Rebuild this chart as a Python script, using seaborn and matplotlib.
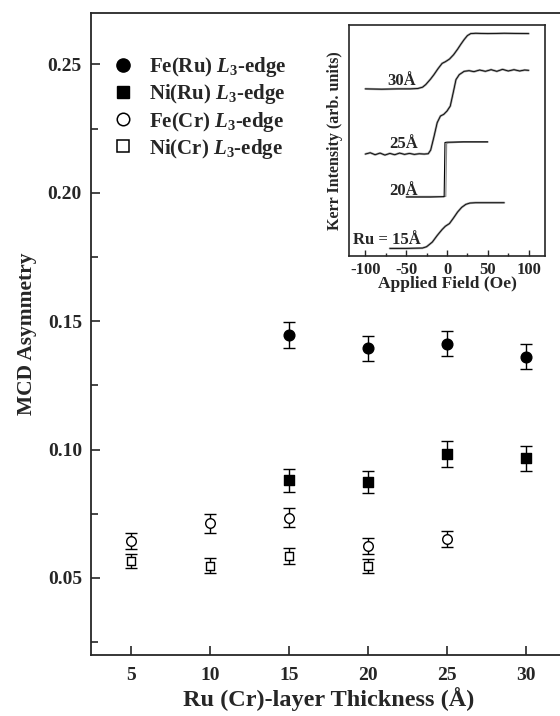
import numpy as np
import pandas as pd
import matplotlib
matplotlib.use("Agg")
import matplotlib.pyplot as plt
from matplotlib.lines import Line2D
from matplotlib.ticker import MultipleLocator
import seaborn as sns

# ---------------- data ----------------
thick_ru = [15, 20, 25, 30]
fe_ru = [0.1446, 0.1394, 0.1413, 0.1361]
fe_ru_err = [0.0050, 0.0049, 0.0049, 0.0049]
ni_ru = [0.0881, 0.0872, 0.0982, 0.0966]
ni_ru_err = [0.0045, 0.0043, 0.0050, 0.0048]

thick_cr_fe = [5, 10, 15, 20, 25]
fe_cr = [0.0645, 0.0713, 0.0735, 0.0625, 0.0652]
fe_cr_err = [0.0032, 0.0036, 0.0036, 0.0031, 0.0032]
thick_cr_ni = [5, 10, 15, 20]
ni_cr = [0.0566, 0.0548, 0.0586, 0.0548]
ni_cr_err = [0.0029, 0.0028, 0.0030, 0.0027]

legend_labels = [r"Fe(Ru) $\mathit{L}_\mathrm{3}$-edge",
                 r"Ni(Ru) $\mathit{L}_\mathrm{3}$-edge",
                 r"Fe(Cr) $\mathit{L}_\mathrm{3}$-edge",
                 r"Ni(Cr) $\mathit{L}_\mathrm{3}$-edge"]

# inset hysteresis curves (field in Oe, Kerr intensity arb. units)
h30 = [-100, -80, -60, -45, -36, -30, -26, -20, -16, -11, -6, -2, 3, 8, 13, 17, 21, 25, 29, 35, 50, 70, 100]
k30 = [5.05, 5.04, 5.05, 5.05, 5.06, 5.10, 5.18, 5.35, 5.48, 5.66, 5.82, 5.87, 5.95, 6.08, 6.25, 6.40, 6.54, 6.66, 6.72, 6.73, 6.72, 6.73, 6.72]

h25 = [-100, -94, -88, -82, -76, -70, -64, -58, -52, -46, -40, -34, -28, -23, -20, -16, -12, -8, -4, 0, 4, 8, 11, 15, 21, 27, 33, 40, 47, 54, 61, 68, 75, 82, 89, 95, 100]
k25 = [3.08, 3.12, 3.06, 3.11, 3.05, 3.10, 3.06, 3.11, 3.07, 3.10, 3.07, 3.09, 3.08, 3.09, 3.20, 3.60, 4.03, 4.23, 4.28, 4.38, 4.53, 4.98, 5.33, 5.48, 5.58, 5.60, 5.57, 5.62, 5.58, 5.63, 5.58, 5.64, 5.59, 5.63, 5.59, 5.62, 5.61]

h20a = [-50, -20, -3.5, -3.0, -2.5, 0, 20, 50]
k20a = [1.78, 1.78, 1.79, 2.60, 3.43, 3.44, 3.45, 3.45]
h20b = [-50, -20, -1.5, -1.0, -0.5, 2, 20, 50]
k20b = [1.80, 1.80, 1.80, 2.60, 3.40, 3.42, 3.44, 3.44]

h15 = [-70, -50, -30, -25, -18, -12, -6, -2, 3, 8, 13, 18, 23, 28, 35, 50, 70]
k15 = [0.23, 0.23, 0.24, 0.28, 0.42, 0.62, 0.80, 0.90, 0.98, 1.15, 1.33, 1.47, 1.56, 1.60, 1.61, 1.61, 1.61]

inset_labels = ["30Å", "25Å", "20Å", "Ru = 15Å"]
inset_label_x = [-55, -53, -53, -74]
inset_label_y = [5.28, 3.38, 1.96, 0.48]

# ---------------- style ----------------
sns.set_style("ticks")
plt.rcParams["font.family"] = ["Liberation Serif", "DejaVu Serif"]
plt.rcParams["font.weight"] = "bold"
plt.rcParams["mathtext.fontset"] = "custom"
plt.rcParams["mathtext.rm"] = "Liberation Serif:bold"
plt.rcParams["mathtext.it"] = "Liberation Serif:italic:bold"
plt.rcParams["mathtext.bf"] = "Liberation Serif:bold"
plt.rcParams["axes.unicode_minus"] = False

fig = plt.figure(figsize=(5.6, 7.16), dpi=100)
ax = fig.add_axes([91 / 560, (716 - 655) / 716, (566 - 91) / 560, (655 - 13) / 716])

def series(x, y, err, marker, filled, size):
    df = pd.DataFrame({"x": x, "y": y})
    ax.errorbar(x, y, yerr=err, fmt="none", ecolor="black", elinewidth=1.0,
                capsize=4.2, capthick=1.0, zorder=2)
    sns.scatterplot(data=df, x="x", y="y", ax=ax, marker=marker, s=size ** 2,
                    color="black" if filled else "white",
                    edgecolor="black", linewidth=1.0, zorder=3, legend=False)

series(thick_ru, fe_ru, fe_ru_err, "o", True, 7.7)
series(thick_ru, ni_ru, ni_ru_err, "s", True, 6.7)
series(thick_cr_fe, fe_cr, fe_cr_err, "o", False, 6.9)
series(thick_cr_ni, ni_cr, ni_cr_err, "s", False, 6.2)

ax.set_xlim(2.5, 32.5)
ax.set_ylim(0.02, 0.27)
ax.set_xticks([5, 10, 15, 20, 25, 30])
ax.yaxis.set_major_locator(MultipleLocator(0.05))
ax.yaxis.set_minor_locator(MultipleLocator(0.025))
ax.tick_params(axis="both", which="major", direction="in", length=6.5, width=1.2,
               labelsize=14)
ax.tick_params(axis="y", which="major", pad=6.5)
ax.tick_params(axis="y", which="minor", direction="in", length=5, width=1.2)
ax.tick_params(axis="x", which="major", pad=8.5)
for s in ax.spines.values():
    s.set_linewidth(1.3)
ax.yaxis.set_major_formatter(matplotlib.ticker.FormatStrFormatter("%.2f"))
ax.set_xlabel("Ru (Cr)-layer Thickness (Å)", fontsize=17.5, fontweight="bold", labelpad=2)
ax.set_ylabel("MCD Asymmetry", fontsize=15.5, fontweight="bold", labelpad=8)

handles = [
    Line2D([], [], ls="none", marker="o", ms=9.5, mfc="black", mec="black"),
    Line2D([], [], ls="none", marker="s", ms=8, mfc="black", mec="black"),
    Line2D([], [], ls="none", marker="o", ms=9, mfc="white", mec="black", mew=1.1),
    Line2D([], [], ls="none", marker="s", ms=8, mfc="white", mec="black", mew=1.1),
]
ax.legend(handles, legend_labels, loc="upper left", bbox_to_anchor=(0.028, 0.947),
          frameon=False, fontsize=15, handletextpad=0.75, labelspacing=0.15,
          handlelength=1.0, borderaxespad=0)

# ---------------- inset ----------------
ins = fig.add_axes([349 / 560, (716 - 256) / 716, (545 - 349) / 560, (256 - 25) / 716])
for hx, ky in [(h30, k30), (h25, k25), (h15, k15)]:
    d = pd.DataFrame({"h": hx, "k": ky})
    sns.lineplot(data=d, x="h", y="k", ax=ins, color="0.6", lw=1.6, sort=False)
    sns.lineplot(data=d, x="h", y="k", ax=ins, color="black", lw=0.6, sort=False)
sns.lineplot(data=pd.DataFrame({"h": h20b, "k": k20b}), x="h", y="k", ax=ins,
             color="0.55", lw=0.9, sort=False)
sns.lineplot(data=pd.DataFrame({"h": h20a, "k": k20a}), x="h", y="k", ax=ins,
             color="black", lw=0.8, sort=False)
for t, xx, yy in zip(inset_labels, inset_label_x, inset_label_y):
    ins.text(xx, yy, t, fontsize=12, fontweight="bold", ha="center", va="center")
ins.set_xlim(-120, 120)
ins.set_ylim(0, 6.98)
ins.set_xticks([-100, -50, 0, 50, 100])
ins.xaxis.set_minor_locator(MultipleLocator(25))
ins.set_yticks([])
ins.tick_params(axis="x", which="major", direction="in", length=4, width=1, labelsize=12, pad=4)
ins.tick_params(axis="x", which="minor", direction="in", length=2.5, width=1)
for s in ins.spines.values():
    s.set_linewidth(1.2)
ins.set_xlabel("Applied Field (Oe)", fontsize=12.5, fontweight="bold", labelpad=-1)
ins.set_ylabel("Kerr Intensity (arb. units)", fontsize=11.5, fontweight="bold", labelpad=4)

fig.savefig("out.png", dpi=100)
